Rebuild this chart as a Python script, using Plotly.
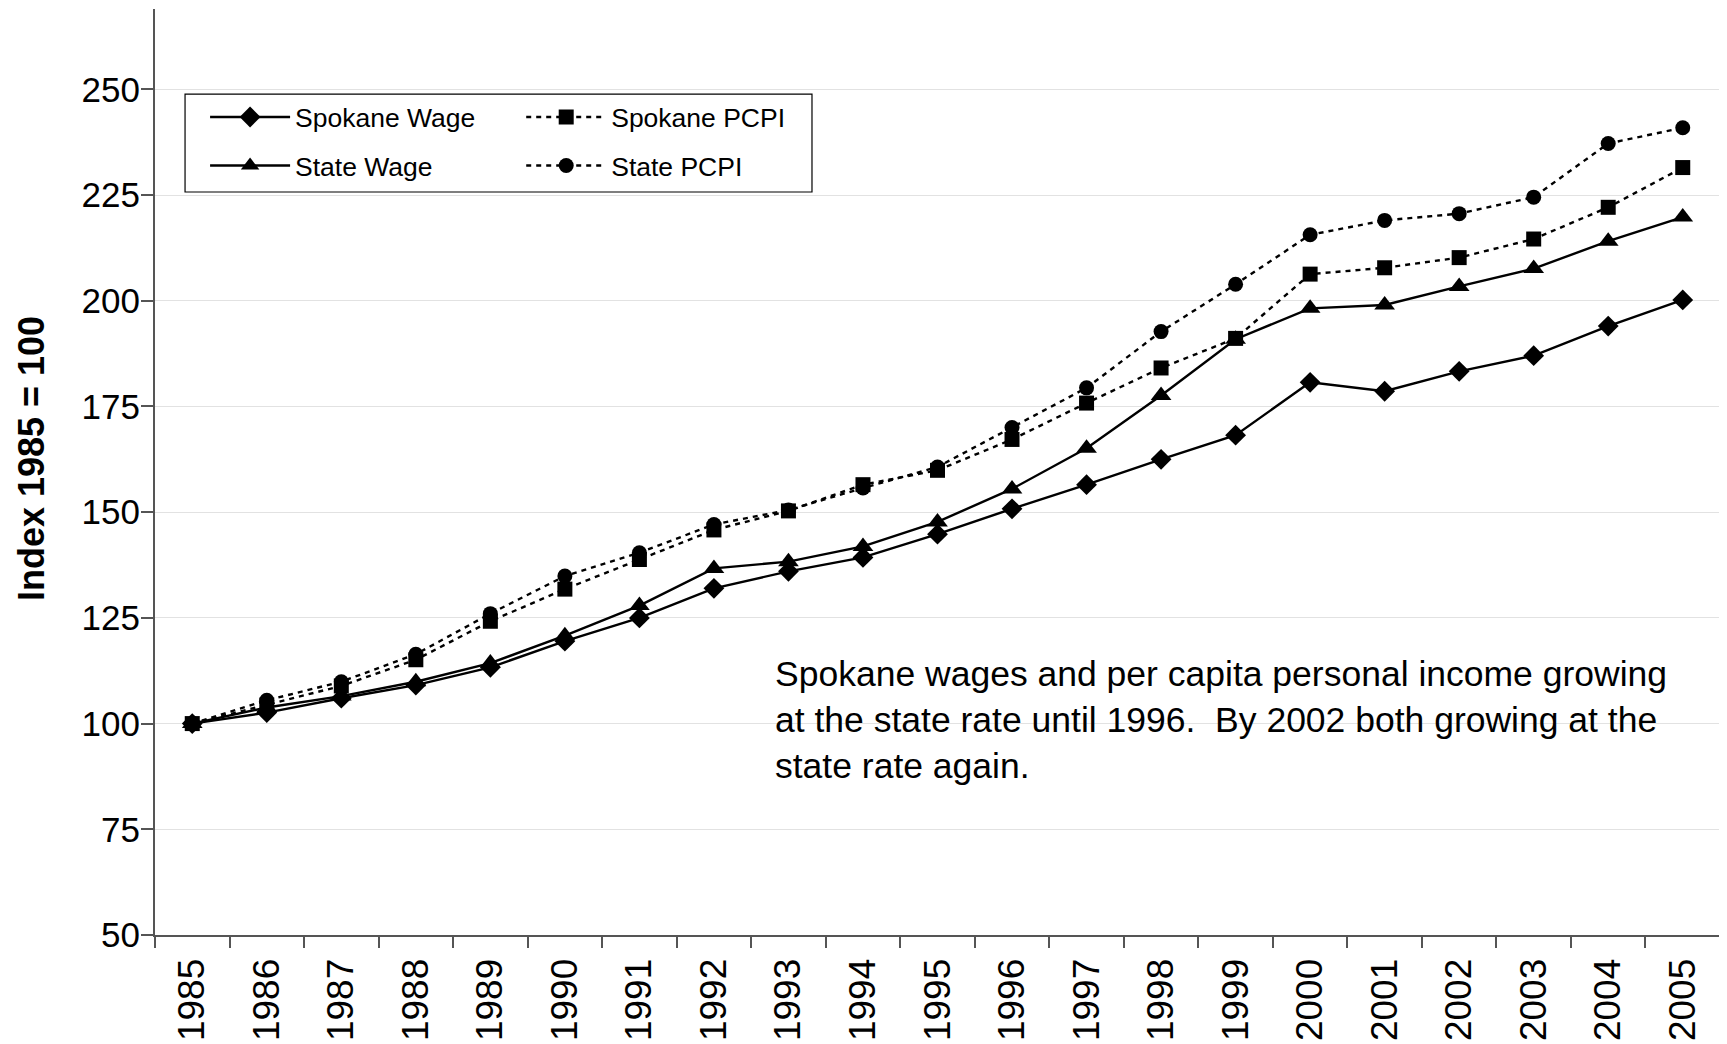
import plotly.graph_objects as go

years = [str(y) for y in range(1985, 2006)]

spokane_wage = [100, 102.6, 106.0, 109.1, 113.3, 119.5, 125.0, 132.0, 136.0, 139.3,
                144.8, 150.8, 156.5, 162.5, 168.2, 180.7, 178.6, 183.3, 187.0, 194.0, 200.2]
state_wage = [100, 103.8, 106.5, 109.9, 114.3, 120.8, 127.9, 136.7, 138.3, 141.9,
              147.7, 155.5, 165.1, 177.6, 190.9, 198.2, 199.0, 203.4, 207.6, 214.1, 219.8]
spokane_pcpi = [100, 104.4, 108.9, 115.1, 124.2, 131.8, 138.8, 145.8, 150.3, 156.5,
                159.9, 167.2, 175.8, 184.1, 191.1, 206.3, 207.8, 210.2, 214.6, 222.1, 231.5]
state_pcpi = [100, 105.5, 109.9, 116.4, 126.0, 134.9, 140.4, 147.1, 150.5, 155.7,
              160.7, 170.0, 179.4, 192.7, 203.9, 215.6, 219.0, 220.6, 224.5, 237.2, 240.9]

y_ticks = [50, 75, 100, 125, 150, 175, 200, 225, 250]

y_title = "<b>Index 1985 = 100</b>"
note = ("Spokane wages and per capita personal income growing<br>"
        "at the state rate until 1996.  By 2002 both growing at the<br>"
        "state rate again.")

FONT = "Liberation Sans, Arial, sans-serif"
NARROW = "Liberation Sans Narrow, Arial Narrow, Liberation Sans, sans-serif"

fig = go.Figure()
series = [
    ("Spokane Wage", spokane_wage, "diamond", "solid", 16, "legend", "g1"),
    ("State Wage", state_wage, "triangle-up", "solid", 18, "legend", "g2"),
    ("Spokane PCPI", spokane_pcpi, "square", "5px,5px", 15, "legend2", "g3"),
    ("State PCPI", state_pcpi, "circle", "5px,5px", 15, "legend2", "g4"),
]
for name, vals, sym, dash, ms, leg, grp in series:
    fig.add_trace(go.Scatter(
        x=years, y=vals, name=name, mode="lines+markers",
        line=dict(color="black", width=2.4, dash=dash),
        marker=dict(symbol=sym, size=ms, color="black"),
        legend=leg, legendgroup=grp,
    ))

leg_common = dict(
    xanchor="left", yanchor="top", orientation="v",
    bgcolor="rgba(0,0,0,0)", borderwidth=0,
    font=dict(family=FONT, size=26.5, color="black"),
    itemwidth=80, tracegroupgap=11,
)

fig.update_layout(
    width=1719, height=1036,
    margin=dict(l=147, r=7, t=1, b=109),
    paper_bgcolor="white", plot_bgcolor="white",
    font=dict(family=FONT, color="black", size=30),
    showlegend=True,
    legend=dict(x=0.032, y=0.909, **leg_common),
    legend2=dict(x=0.234, y=0.909, **leg_common),
    xaxis=dict(
        type="category", tickson="boundaries", ticks="outside", ticklen=11,
        tickcolor="#555", tickwidth=1.5,
        showline=True, linecolor="#555", linewidth=2,
        showgrid=False, tickangle=-90,
        tickfont=dict(family=FONT, size=37, color="black"),
        ticklabelstandoff=7,
        range=[-0.5, 20.5], fixedrange=True,
    ),
    yaxis=dict(
        range=[50, 269], tickvals=y_ticks, ticks="outside", ticklen=12,
        tickcolor="#555", tickwidth=1.5,
        showline=True, linecolor="#555", linewidth=2,
        showgrid=True, gridcolor="#e2e2e2", gridwidth=1,
        zeroline=False,
        tickfont=dict(family=NARROW, size=35, color="black"),
        ticklabelstandoff=-6,
    ),
    annotations=[
        dict(text=y_title, xref="paper", yref="paper", x=-0.0792, y=0.514,
             xanchor="center", yanchor="middle", textangle=-90, showarrow=False,
             font=dict(family=FONT, size=36, color="black")),
        dict(text=note, xref="paper", yref="paper", x=0.395, y=0.306,
             xanchor="left", yanchor="top", align="left", showarrow=False,
             font=dict(family=FONT, size=35.5, color="black")),
    ],
    shapes=[
        dict(type="line", xref="paper", yref="paper", x0=1, x1=1, y0=0, y1=1.01,
             line=dict(color="#888", width=1.5)),
        dict(type="rect", xref="paper", yref="paper", x0=0.0192, x1=0.4198, y0=0.8024, y1=0.908,
             line=dict(color="black", width=1.2), fillcolor="white", layer="below"),
    ],
)

fig.write_html("out.html")
